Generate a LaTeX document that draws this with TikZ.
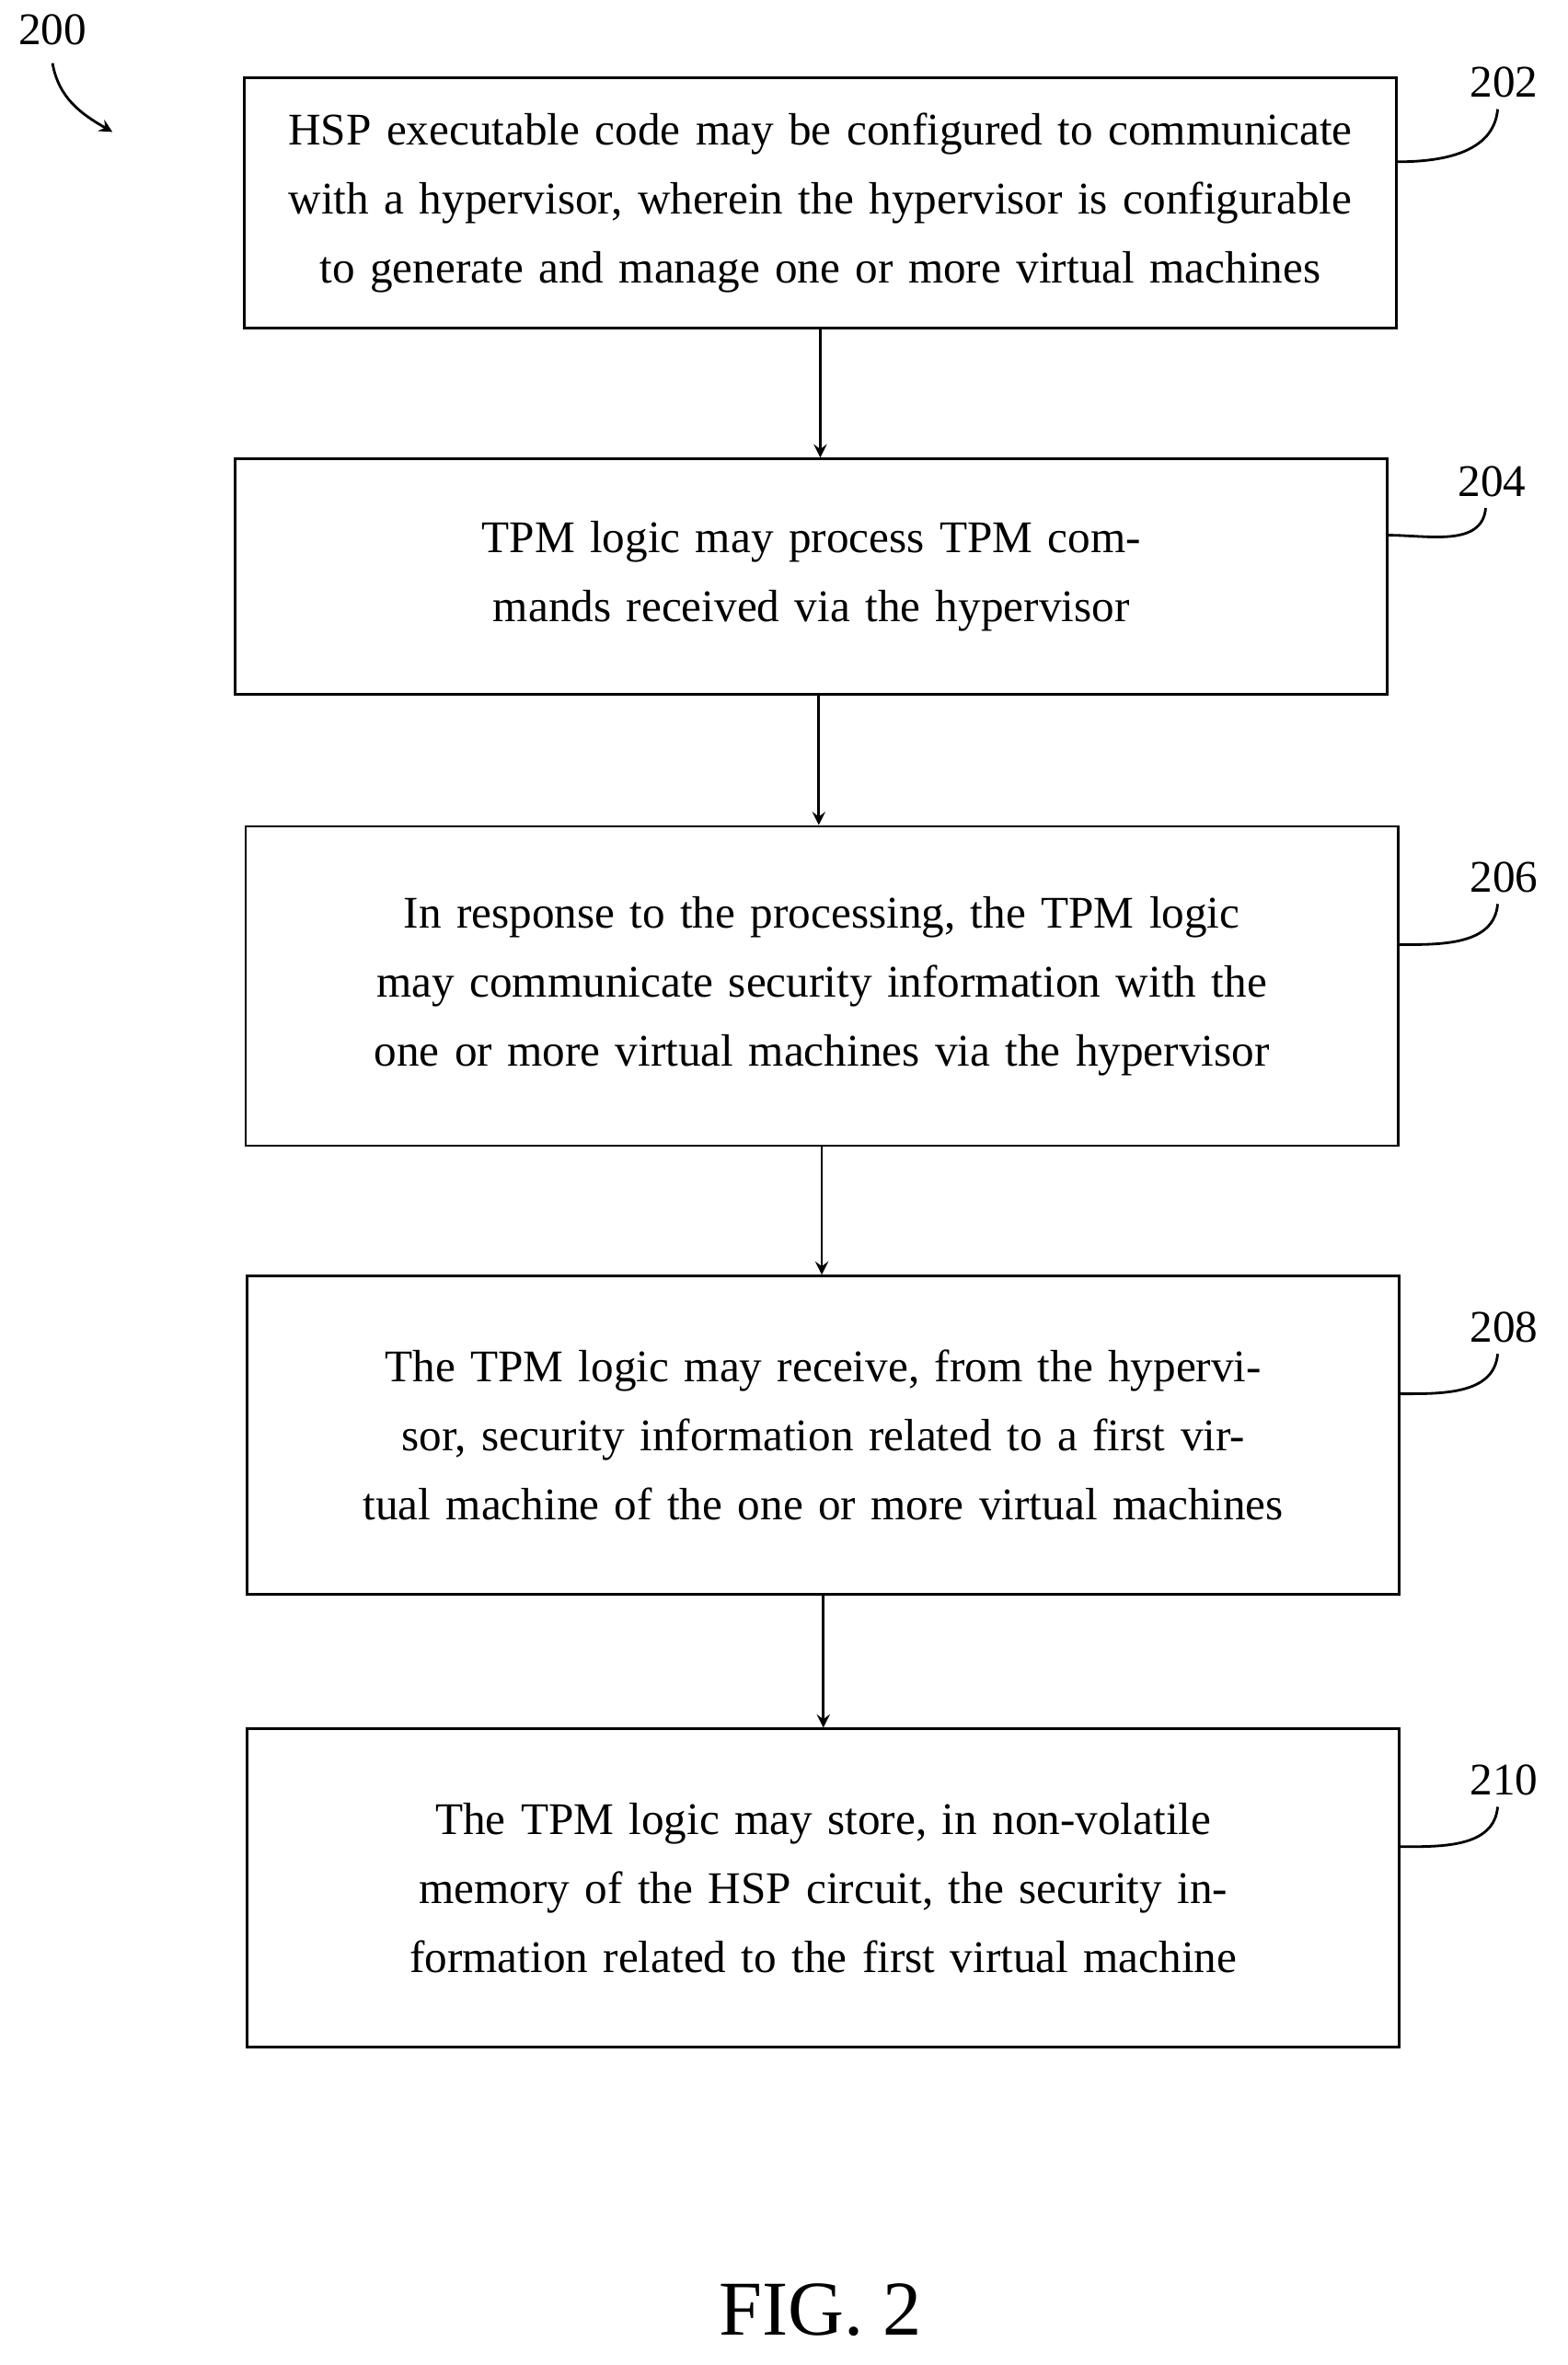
\documentclass[tikz,border=0pt]{standalone}
\usepackage{fontspec}
\setmainfont{Liberation Serif}
\usetikzlibrary{positioning,calc}
\tikzset{
  stepbox/.style={draw, line width=0.8pt, minimum width=12.52cm, align=center,
    font=\fontsize{14}{21.3}\selectfont, text width=12cm},
  ref/.style={font=\fontsize{14}{16}\selectfont},
  flow/.style={->, >=stealth, line width=0.8pt},
  lead/.style={line width=0.8pt}
}
\begin{document}
\begin{tikzpicture}[x=0.0163cm, y=-0.0163cm]
    \useasboundingbox (0,0) rectangle (1045,1577);

    % Boxes
    \node[stepbox, minimum height=2.72cm] (b202) at (547,135.5) {HSP executable code may be configured to communicate with a hypervisor, wherein the hypervisor is configurable to generate and manage one or more virtual machines};
    \node[stepbox, minimum height=2.56cm] (b204) at (541,384.5) {TPM logic may process TPM commands received via the hypervisor};
    \node[stepbox, minimum height=3.47cm] (b206) at (548,657.5) {In response to the processing, the TPM logic may communicate security information with the one or more virtual machines via the hypervisor};
    \node[stepbox, minimum height=3.46cm] (b208) at (549,957) {The TPM logic may receive, from the hypervisor, security information related to a first virtual machine of the one or more virtual machines};
    \node[stepbox, minimum height=3.46cm] (b210) at (549,1259) {The TPM logic may store, in non-volatile memory of the HSP circuit, the security information related to the first virtual machine};

    % Reference numerals
    \node[ref] (l202) at (1003,55) {202};
    \node[ref] (l204) at (995,321) {204};
    \node[ref] (l206) at (1003,585) {206};
    \node[ref] (l208) at (1003,885) {208};
    \node[ref] (l210) at (1003,1187) {210};
    \node[ref] (l200) at (35,20) {200};
    \node[font=\fontsize{24}{28}\selectfont] (fig) at (547,1540) {FIG. 2};

    % Leaders
    \foreach \n in {202,204,206,208,210}
      \draw[lead] ([yshift=0.45cm]b\n.east) to[out=0,in=-95] ([xshift=-2pt]l\n.south);
    \coordinate (t200) at (75,88);
    \draw[lead, -stealth] ([yshift=-2pt]l200.south) to[out=-80,in=150] (t200);

    % Arrows
    \draw[flow] (b202.south) -- (b202.south |- b204.north);
    \draw[flow] (b204.south) ++(5,0) coordinate (a1) -- (a1 |- b206.north);
    \draw[flow] (b206.south) -- (b206.south |- b208.north);
    \draw[flow] (b208.south) -- (b208.south |- b210.north);
\end{tikzpicture}
\end{document}
